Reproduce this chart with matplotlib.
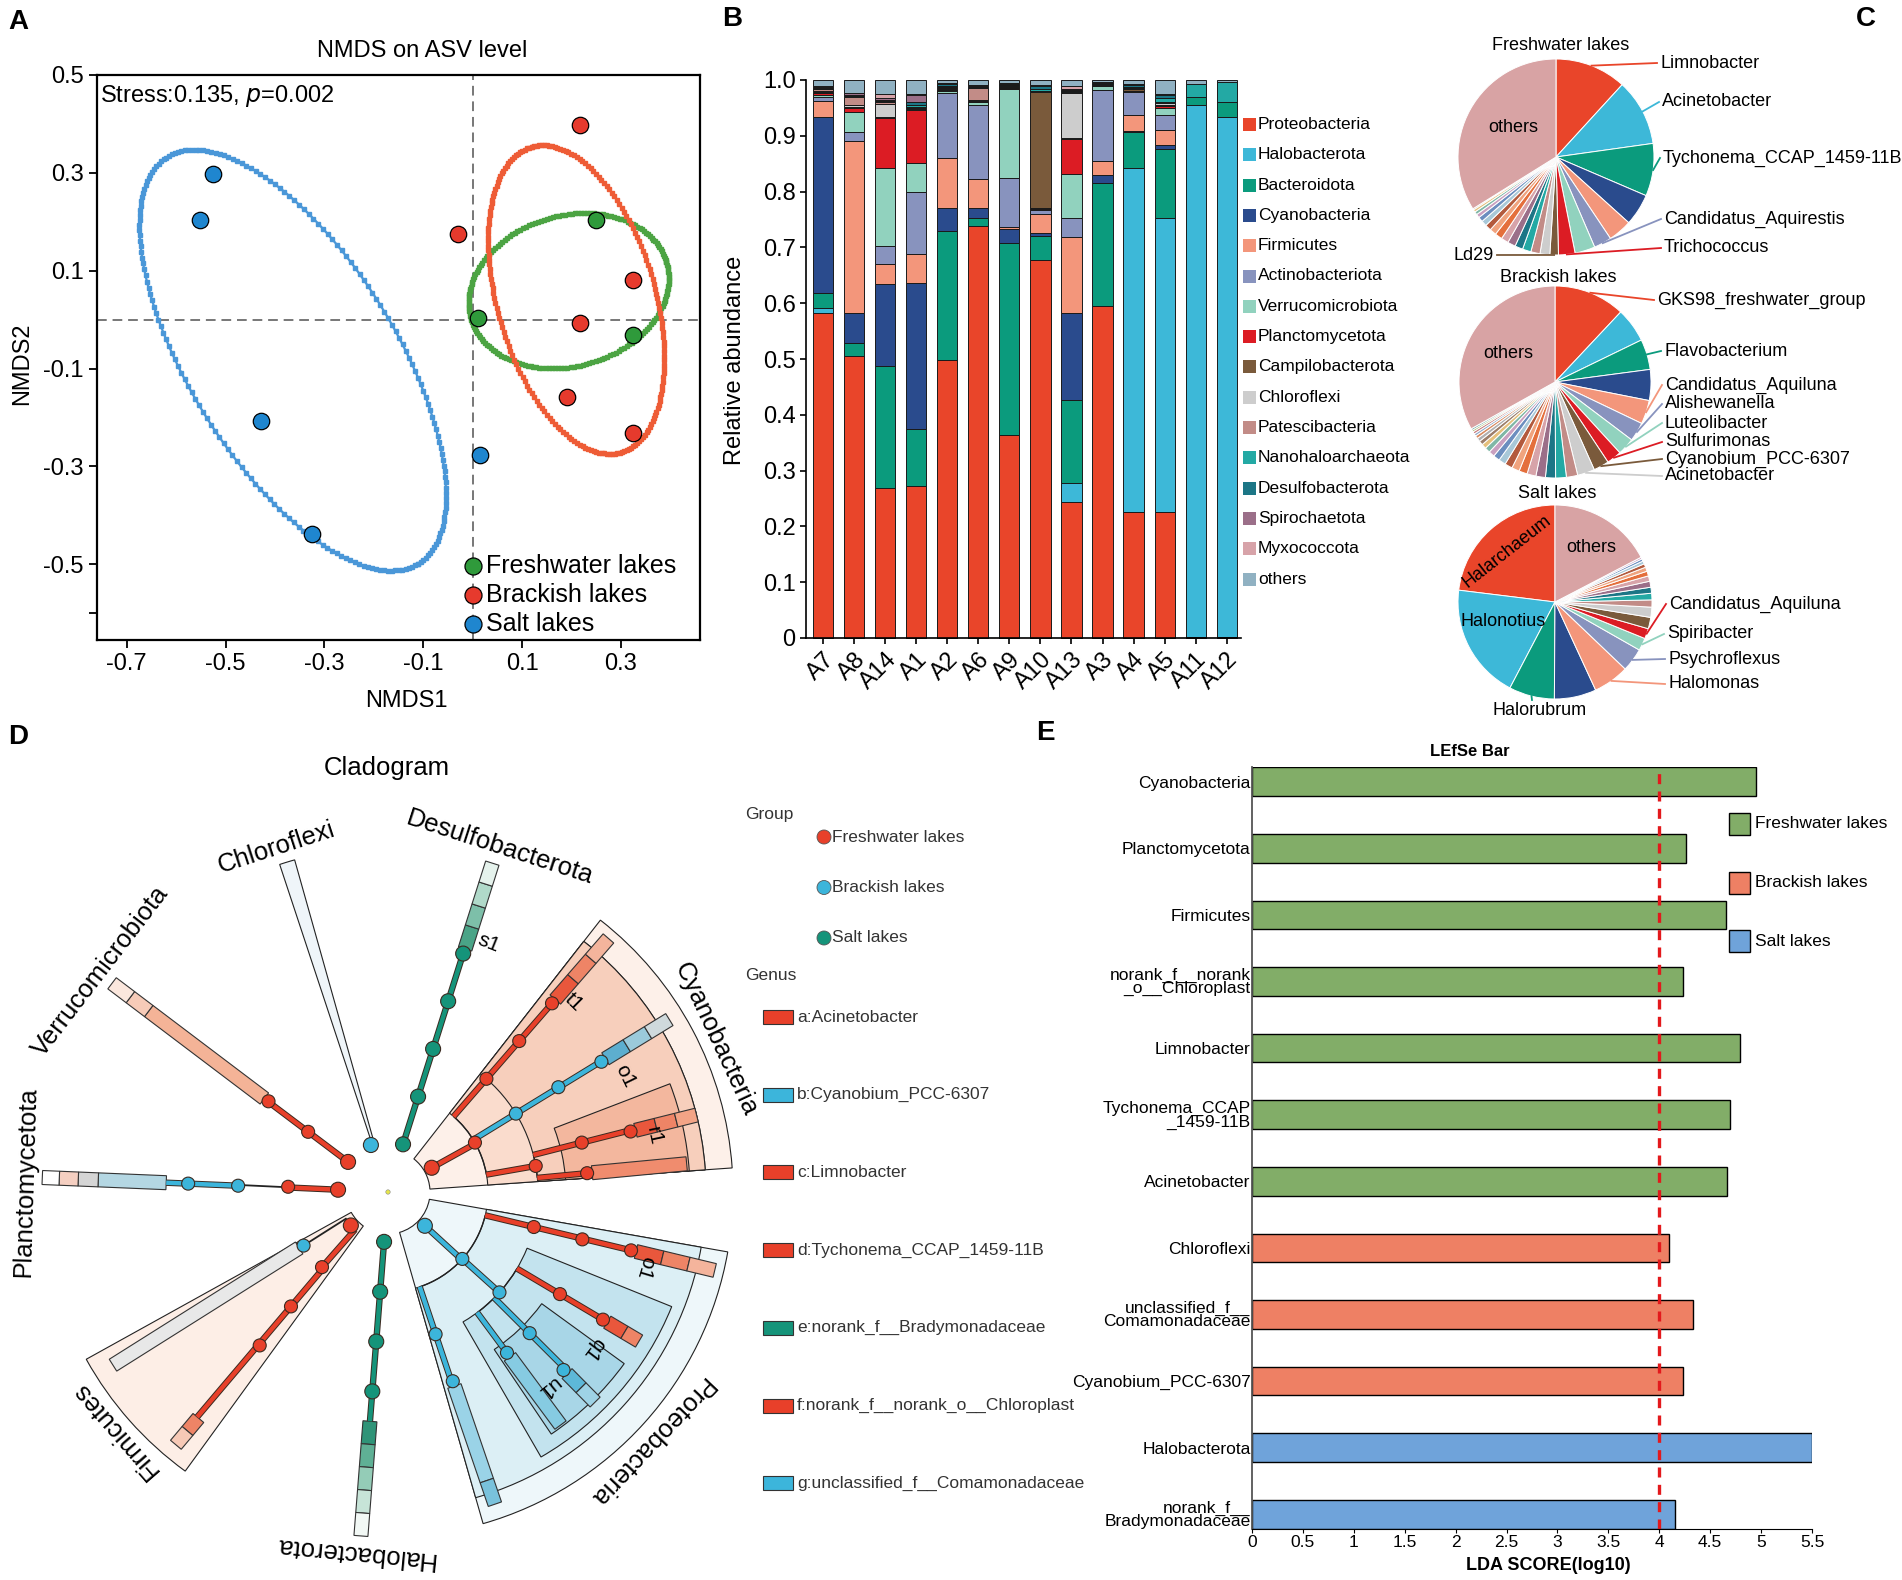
import numpy as np
import matplotlib
matplotlib.use("Agg")
import matplotlib.pyplot as plt
import matplotlib.patheffects as pe
from matplotlib.patches import Circle, Polygon, Rectangle, Wedge, Arc

plt.rcParams["font.family"] = ["Liberation Sans", "DejaVu Sans"]
plt.rcParams["axes.unicode_minus"] = False

W, H = 1902, 1580

# ---------------- A: NMDS ----------------
nmds_groups = ["Freshwater lakes", "Brackish lakes", "Salt lakes"]
fresh_x = [0.250, 0.011, 0.325]
fresh_y = [0.203, 0.003, -0.032]
brack_x = [0.217, -0.029, 0.325, 0.217, 0.191, 0.325]
brack_y = [0.397, 0.174, 0.080, -0.006, -0.159, -0.232]
salt_x = [-0.526, -0.552, -0.428, -0.325, 0.015]
salt_y = [0.297, 0.203, -0.208, -0.439, -0.277]
# ellipse: centre x, centre y, half major, half minor, angle
ell_fresh = [0.1945, 0.059, 0.206, 0.154, 16.3]
ell_brack = [0.2095, 0.041, 0.325, 0.160, 106.1]
ell_salt = [-0.364, -0.083, 0.487, 0.210, -58.7]
nmds_point_colors = ["#2F9A3B", "#E63A2D", "#1F86CF"]
nmds_line_colors = ["#4CA443", "#EE5C36", "#4A97D8"]

# ---------------- B: stacked bars ----------------
samples = ["A7", "A8", "A14", "A1", "A2", "A6", "A9", "A10", "A13", "A3", "A4", "A5", "A11", "A12"]
phyla = ["Proteobacteria", "Halobacterota", "Bacteroidota", "Cyanobacteria", "Firmicutes",
         "Actinobacteriota", "Verrucomicrobiota", "Planctomycetota", "Campilobacterota",
         "Chloroflexi", "Patescibacteria", "Nanohaloarchaeota", "Desulfobacterota",
         "Spirochaetota", "Myxococcota", "others"]
phylum_colors = ["#E9452A", "#3DB8D8", "#0B9B7D", "#2A4B8D", "#F3967B", "#8893BE", "#91D2BE",
                 "#DC1C24", "#7A5A3B", "#CDCDCD", "#C28C87", "#23A9A4", "#1C7686", "#9B6F89",
                 "#D7A3A9", "#90B1C2"]
proteobacteria = [0.583, 0.505, 0.269, 0.273, 0.499, 0.738, 0.364, 0.678, 0.243, 0.595, 0.226, 0.226, 0.002, 0.001]
halobacterota = [0.009, 0.000, 0.000, 0.000, 0.000, 0.000, 0.000, 0.000, 0.034, 0.000, 0.617, 0.526, 0.953, 0.932]
bacteroidota = [0.027, 0.024, 0.219, 0.101, 0.231, 0.014, 0.343, 0.043, 0.149, 0.221, 0.063, 0.124, 0.014, 0.027]
cyanobacteria = [0.314, 0.054, 0.147, 0.263, 0.041, 0.019, 0.026, 0.005, 0.157, 0.013, 0.002, 0.007, 0.000, 0.000]
firmicutes = [0.030, 0.308, 0.035, 0.052, 0.089, 0.052, 0.003, 0.034, 0.136, 0.025, 0.030, 0.028, 0.000, 0.000]
actinobacteriota = [0.007, 0.016, 0.032, 0.111, 0.117, 0.132, 0.089, 0.007, 0.034, 0.128, 0.040, 0.026, 0.000, 0.000]
verrucomicrobiota = [0.003, 0.035, 0.141, 0.052, 0.003, 0.005, 0.159, 0.002, 0.078, 0.007, 0.002, 0.013, 0.000, 0.000]
planctomycetota = [0.003, 0.008, 0.089, 0.095, 0.002, 0.001, 0.002, 0.001, 0.064, 0.001, 0.001, 0.003, 0.000, 0.000]
campilobacterota = [0.002, 0.002, 0.002, 0.001, 0.002, 0.001, 0.001, 0.208, 0.001, 0.001, 0.002, 0.002, 0.000, 0.000]
chloroflexi = [0.003, 0.003, 0.023, 0.002, 0.002, 0.002, 0.001, 0.002, 0.081, 0.001, 0.001, 0.003, 0.000, 0.000]
patescibacteria = [0.002, 0.015, 0.004, 0.002, 0.002, 0.022, 0.002, 0.001, 0.002, 0.001, 0.002, 0.002, 0.000, 0.000]
nanohaloarchaeota = [0.001, 0.002, 0.002, 0.003, 0.001, 0.001, 0.001, 0.002, 0.001, 0.001, 0.002, 0.008, 0.023, 0.036]
desulfobacterota = [0.002, 0.002, 0.002, 0.006, 0.003, 0.001, 0.001, 0.006, 0.002, 0.001, 0.003, 0.005, 0.000, 0.000]
spirochaetota = [0.002, 0.002, 0.002, 0.012, 0.001, 0.001, 0.001, 0.001, 0.001, 0.000, 0.001, 0.001, 0.000, 0.000]
myxococcota = [0.002, 0.000, 0.008, 0.002, 0.001, 0.002, 0.001, 0.001, 0.006, 0.001, 0.001, 0.001, 0.000, 0.000]
others = [0.010, 0.024, 0.025, 0.025, 0.006, 0.009, 0.006, 0.009, 0.011, 0.004, 0.007, 0.025, 0.008, 0.004]
abundance = [proteobacteria, halobacterota, bacteroidota, cyanobacteria, firmicutes, actinobacteriota,
             verrucomicrobiota, planctomycetota, campilobacterota, chloroflexi, patescibacteria,
             nanohaloarchaeota, desulfobacterota, spirochaetota, myxococcota, others]

# ---------------- C: pies (percent) ----------------
pie_palette = phylum_colors[:15] + ["#E46F3C", "#F0A37E", "#B35A3D", "#A8C8D8", "#6C8EBF",
                                    "#C9A0C0", "#7FB7A6", "#E5C07B", "#9C7E6A", "#B0B0B0",
                                    "#D98B5F", "#8FA9C9", "#C77B7B", "#A7B86A", "#6FA8A0"]
others_color = "#D8A3A4"
fresh_pie = [11.7, 10.9, 8.6, 5.2, 3.9, 2.9, 3.3, 2.7, 1.4, 1.6, 1.5, 1.4, 1.3, 1.3, 1.2, 1.2,
             1.1, 1.0, 0.9, 0.8, 0.6, 0.5, 0.4, 0.2, 33.6]
fresh_lab_idx = [0, 1, 2, 5, 7, 8]
fresh_lab_txt = ["Limnobacter", "Acinetobacter", "Tychonema_CCAP_1459-11B",
                 "Candidatus_Aquirestis", "Trichococcus", "Ld29"]
brack_pie = [12.0, 5.8, 5.1, 5.2, 4.0, 3.2, 2.9, 2.5, 2.6, 2.9, 1.9, 1.8, 1.7, 1.6, 1.5, 1.4,
             1.3, 1.3, 1.2, 1.1, 1.0, 0.9, 0.8, 0.7, 0.6, 0.5, 0.4, 0.4, 0.3, 0.3, 33.1]
brack_lab_idx = [0, 2, 4, 5, 6, 7, 8, 9]
brack_lab_txt = ["GKS98_freshwater_group", "Flavobacterium", "Candidatus_Aquiluna", "Alishewanella",
                 "Luteolibacter", "Sulfurimonas", "Cyanobium_PCC-6307", "Acinetobacter"]
salt_pie = [23.1, 19.3, 7.6, 7.0, 6.0, 3.9, 2.1, 1.7, 1.9, 1.7, 1.2, 1.1, 1.0, 1.0, 0.9, 0.8,
            0.7, 0.6, 0.5, 0.4, 0.3, 17.4]
salt_lab_idx = [7, 6, 5, 4, 2]
salt_lab_txt = ["Candidatus_Aquiluna", "Spiribacter", "Psychroflexus", "Halomonas", "Halorubrum"]

# ---------------- D: cladogram ----------------
group_colors = {"F": "#E8402A", "B": "#3CB5DB", "S": "#15947A", "K": "#222222"}
phylum_names = ["Chloroflexi", "Desulfobacterota", "Cyanobacteria", "Proteobacteria",
                "Halobacterota", "Firmicutes", "Planctomycetota", "Verrucomicrobiota"]
phylum_angles = [108, 72, 25, -43.5, -95.4, -139, 178.3, 142.5]
clade_wedges = [(4, 52, 42, 345, "#FDF0E9"), (4, 52, 100, 318, "#FADCCD"), (4, 52, 150, 318, "#F7CFBC"),
                (4, 21, 178, 302, "#F3B79E"),
                (-74, -10, 42, 345, "#EEF7FA"), (-74, -10, 100, 318, "#DCEFF5"),
                (-60, -22, 150, 306, "#C3E3EE"), (-56, -36, 190, 292, "#A8D6E7"),
                (-151, -126, 42, 345, "#FDEEE6"), (105.7, 108.3, 55, 345, "#EFF5F9")]
clade_branches = [(72.5, 50, 250, "S"),
                  (29.0, 50, 100, "F"), (49.0, 100, 250, "F"), (31.5, 100, 250, "B"),
                  (10.0, 100, 150, "F"), (14.3, 150, 250, "F"), (5.4, 150, 205, "F"),
                  (-42.5, 50, 100, "B"), (-13.5, 100, 250, "F"), (-42.0, 100, 150, "B"),
                  (-71.5, 100, 200, "B"), (-30.7, 150, 250, "F"), (-44.9, 150, 250, "B"),
                  (-53.5, 150, 205, "B"), (-71.1, 200, 205, "B"),
                  (-94.5, 50, 230, "S"),
                  (-147.6, 50, 100, "K"), (-131.3, 50, 100, "F"), (-130.3, 100, 295, "F"),
                  (177.4, 50, 100, "F"), (177.3, 100, 150, "K"), (177.6, 150, 222, "B"),
                  (143.0, 50, 155, "F")]
clade_arcs = [(100, 10, 49), (150, 5.4, 14.3), (100, -71.5, -13.5), (150, -53.5, -30.7), (50, -147.6, -131.3)]
clade_nodes = [(72.5, 50, "S"), (72.5, 100, "S"), (72.5, 150, "S"), (72.5, 200, "S"), (72.5, 250, "S"),
               (29, 50, "F"), (29.6, 100, "F"), (49, 150, "F"), (31.5, 150, "B"), (10, 150, "F"),
               (49, 200, "F"), (31.6, 200, "B"), (14.3, 200, "F"), (5.4, 200, "F"),
               (49, 250, "F"), (31.4, 250, "B"), (14, 250, "F"),
               (-42.5, 50, "B"), (-42, 100, "B"), (-13.5, 150, "F"), (-42, 150, "B"), (-71.5, 150, "B"),
               (-13.7, 200, "F"), (-30.7, 200, "F"), (-44.9, 200, "B"), (-53.5, 200, "B"),
               (-71.1, 200, "B"), (-13.5, 250, "F"), (-30.7, 250, "F"), (-45.4, 250, "B"),
               (-94.5, 50, "S"), (-94.5, 100, "S"), (-94.5, 150, "S"), (-94.5, 200, "S"),
               (-138, 50, "F"), (-147.6, 100, "B"), (-131.3, 100, "F"), (-130.3, 150, "F"), (-129.9, 200, "F"),
               (177.4, 50, "F"), (177, 100, "F"), (177.6, 150, "B"), (177.6, 200, "B"),
               (143, 50, "F"), (143, 100, "F"), (142.8, 150, "F"),
               (110, 50, "B")]
clade_bars = [(72.4, [255, 278, 300, 323, 345], ["#4AA487", "#7DBFA9", "#B0D9C9", "#E5F2EC"]),
              (49, [255, 282, 309, 336], ["#E9573C", "#EE8466", "#F4B49C"]),
              (31.5, [255, 280, 305, 330], ["#5DAECF", "#9BCADB", "#CFD9DC"]),
              (14, [255, 276, 297, 318], ["#E9573C", "#EE8466", "#F3A486"]),
              (5.4, [205, 300], ["#F08C6E"]),
              (-13.5, [255, 282, 309, 336], ["#E9573C", "#EE8466", "#F4B49C"]),
              (-30.7, [255, 275, 292], ["#E9573C", "#EE8466"]),
              (-45.4, [255, 275, 295], ["#5DB8D8", "#9ED3E6"]),
              (-53.5, [205, 290], ["#86CBE2"]),
              (-71.1, [205, 305, 330], ["#9AD3E7", "#79C2DC"]),
              (-94.5, [230, 253, 276, 299, 322, 345], ["#2F9478", "#5FB095", "#94CCB7", "#C7E4D8", "#F2F8F5"]),
              (-130.0, [295, 312, 330], ["#EE8466", "#F7C9B6"]),
              (-147.8, [105, 325], ["#E8E8E8"]),
              (177.6, [222, 290, 310, 329, 346], ["#B4D7E3", "#D5D5D5", "#F5CFC1", "#FFFFFF"]),
              (142.9, [155, 300, 323, 346], ["#F4B397", "#F7CBB8", "#FBE7DD"])]
clade_marks = [("s1", 68, 268), ("t1", 45.6, 266), ("o1", 26, 264), ("r1", 12, 272),
               ("o1", -16.5, 268), ("q1", -37.4, 259), ("u1", -50.7, 253)]
group_names_d = ["Freshwater lakes", "Brackish lakes", "Salt lakes"]
genus_legend = ["a:Acinetobacter", "b:Cyanobium_PCC-6307", "c:Limnobacter", "d:Tychonema_CCAP_1459-11B",
                "e:norank_f__Bradymonadaceae", "f:norank_f__norank_o__Chloroplast",
                "g:unclassified_f__Comamonadaceae"]
genus_groups = ["F", "B", "F", "F", "S", "F", "B"]

# ---------------- E: LEfSe ----------------
lefse_names = ["Cyanobacteria", "Planctomycetota", "Firmicutes", "norank_f__norank\n_o__Chloroplast",
               "Limnobacter", "Tychonema_CCAP\n_1459-11B", "Acinetobacter", "Chloroflexi",
               "unclassified_f__\nComamonadaceae", "Cyanobium_PCC-6307", "Halobacterota",
               "norank_f__\nBradymonadaceae"]
lefse_scores = [4.95, 4.26, 4.66, 4.23, 4.79, 4.69, 4.67, 4.10, 4.33, 4.23, 5.50, 4.15]
lefse_groups = ["F", "F", "F", "F", "F", "F", "F", "B", "B", "B", "S", "S"]
lefse_colors = {"F": "#82AD68", "B": "#EE8064", "S": "#6FA3DA"}
lefse_legend = ["Freshwater lakes", "Brackish lakes", "Salt lakes"]

fig = plt.figure(figsize=(W / 100, H / 100), dpi=100)


def box(l, t, w, h):
    return [l / W, 1 - (t + h) / H, w / W, h / H]


def Y(t):
    return H - t


# ---- A ----
axA = fig.add_axes(box(97, 75, 603, 565))
axA.axhline(0, color="#777777", ls=(0, (5, 3)), lw=1.4, zorder=1)
axA.axvline(0, color="#777777", ls=(0, (5, 3)), lw=1.4, zorder=1)
tt = np.linspace(0, 2 * np.pi, 200)
for (ecx, ecy, ea, eb, eang), col in zip([ell_fresh, ell_brack, ell_salt], nmds_line_colors):
    th = np.deg2rad(eang)
    ex = ecx + ea * np.cos(tt) * np.cos(th) - eb * np.sin(tt) * np.sin(th)
    ey = ecy + ea * np.cos(tt) * np.sin(th) + eb * np.sin(tt) * np.cos(th)
    axA.plot(ex, ey, color=col, lw=1.6, marker="s", ms=2.4, zorder=2)
for xs, ys, col in zip([fresh_x, brack_x, salt_x], [fresh_y, brack_y, salt_y], nmds_point_colors):
    axA.scatter(xs, ys, s=140, color=col, edgecolor="black", linewidth=0.9, zorder=3)
axA.set_xlim(-0.76, 0.46)
axA.set_ylim(-0.655, 0.5)
axA.set_xticks([-0.7, -0.5, -0.3, -0.1, 0.1, 0.3])
axA.set_xticklabels(["-0.7", "-0.5", "-0.3", "-0.1", "0.1", "0.3"])
axA.set_yticks([0.5, 0.3, 0.1, -0.1, -0.3, -0.5, -0.6])
axA.set_yticklabels(["0.5", "0.3", "0.1", "-0.1", "-0.3", "-0.5", ""])
axA.tick_params(labelsize=17, width=1.3, length=6)
for s in axA.spines.values():
    s.set_linewidth(1.6)

# ---- B ----
axB = fig.add_axes(box(806, 80, 435, 558))
xb = np.arange(len(samples))
bottom = np.zeros(len(samples))
for vals, col in zip(abundance, phylum_colors):
    axB.bar(xb, vals, 0.65, bottom=bottom, color=col, edgecolor="#1a1a1a", linewidth=0.7, clip_on=False)
    bottom += np.array(vals)
axB.set_xlim(-0.55, 13.46)
axB.set_ylim(0, 1.0)
axB.set_yticks(np.arange(0, 1.01, 0.1))
axB.set_yticklabels(["0"] + ["%.1f" % v for v in np.arange(0.1, 1.01, 0.1)])
axB.set_xticks(xb)
axB.set_xticklabels(samples, rotation=45, ha="right", rotation_mode="anchor")
axB.tick_params(labelsize=17, width=1.2, length=4)
axB.spines["top"].set_visible(False)
axB.spines["right"].set_visible(False)
axB.spines["left"].set_linewidth(1.2)
axB.spines["bottom"].set_linewidth(1.2)

# ---- E ----
axE = fig.add_axes(box(1252, 767, 560, 762))
ye = np.arange(len(lefse_names))
axE.barh(ye, lefse_scores, height=0.43, color=[lefse_colors[g] for g in lefse_groups],
         edgecolor="black", linewidth=1.0)
axE.axvline(4.0, color="#E3191C", ls=(0, (3, 2.2)), lw=2.4)
axE.set_xlim(0, 5.5)
axE.set_ylim(len(lefse_names) - 1 + 0.22, -0.22)
axE.set_xticks(np.arange(0, 5.51, 0.5))
axE.set_xticklabels(["%g" % v for v in np.arange(0, 5.51, 0.5)])
axE.set_yticks(ye)
axE.set_yticklabels(lefse_names, linespacing=0.85)
axE.tick_params(axis="y", length=0, pad=1, labelsize=12.5)
axE.tick_params(axis="x", length=3, pad=1, labelsize=12.5)
axE.spines["top"].set_visible(False)
axE.spines["right"].set_visible(False)
axE.spines["left"].set_color("#555555")
axE.spines["left"].set_linewidth(1.3)

# ---- overlay in pixel units ----
ov = fig.add_axes([0, 0, 1, 1])
ov.patch.set_visible(False)

# panel letters and titles
for letter, (lx, ly) in zip("ABCDE", [(8, 22), (722, 19), (1856, 19), (8, 737), (1036, 733)]):
    ov.text(lx, Y(ly), letter, fontsize=20, fontweight="bold", ha="left", va="center")
ov.text(422, Y(51), "NMDS on ASV level", fontsize=17, ha="center", va="center")
ov.text(100, Y(96), "Stress:0.135, $\\it{p}$=0.002", fontsize=17, ha="left", va="center")
ov.text(406, Y(701), "NMDS1", fontsize=17, ha="center", va="center")
ov.text(22, Y(364), "NMDS2", fontsize=17, ha="center", va="center", rotation=90)
for i, name in enumerate(nmds_groups):
    yy = Y(566 + 29 * i)
    ov.scatter([473], [yy], s=150, color=nmds_point_colors[i], edgecolor="black", linewidth=0.9)
    ov.text(486, yy, name, fontsize=18, ha="left", va="center")

ov.text(735, Y(360), "Relative abundance", fontsize=17, ha="center", va="center", rotation=90)
for i, (name, col) in enumerate(zip(phyla, phylum_colors)):
    yy = Y(124.5 + 30.3 * i)
    ov.add_patch(Rectangle((1243, yy - 6.5), 13, 13, fc=col, ec="none"))
    ov.text(1258, yy, name, fontsize=12.5, ha="left", va="center")


# ---- C: pies ----
def draw_pie(vals, centre, radius, counterclock, lab_idx, lab_txt, lab_xy, lab_ha):
    cols = [pie_palette[i % len(pie_palette)] for i in range(len(vals) - 1)] + [others_color]
    wedges, _ = ov.pie(vals, colors=cols, startangle=90, counterclock=counterclock,
                       center=(centre[0], Y(centre[1])), radius=radius,
                       wedgeprops=dict(edgecolor="white", linewidth=0.7))
    for idx, txt, (lx, ly), ha in zip(lab_idx, lab_txt, lab_xy, lab_ha):
        w = wedges[idx]
        mid = np.deg2rad((w.theta1 + w.theta2) / 2)
        px = centre[0] + radius * np.cos(mid)
        py = Y(centre[1]) + radius * np.sin(mid)
        ex = lx - 3 if ha == "left" else lx + 3
        if ha == "center":
            ex = lx - 8
        ov.plot([px, ex], [py, Y(ly)], color=w.get_facecolor(), lw=1.3)
        ov.text(lx, Y(ly) if ha != "center" else Y(ly) - 2, txt, fontsize=13,
                ha=ha, va="center" if ha != "center" else "top")
    return wedges


draw_pie(fresh_pie, (1556, 157), 98, False, fresh_lab_idx, fresh_lab_txt,
         [(1660, 63), (1662, 102), (1663, 158), (1664, 219), (1664, 248), (1494, 255)],
         ["left"] * 5 + ["right"])
draw_pie(brack_pie, (1555, 382), 96, False, brack_lab_idx, brack_lab_txt,
         [(1657, 300), (1664, 351), (1665, 385), (1665, 404), (1665, 423), (1665, 442),
          (1665, 459), (1665, 476)], ["left"] * 8)
draw_pie(salt_pie, (1555, 602), 97, True, salt_lab_idx, salt_lab_txt,
         [(1669, 604), (1667, 634), (1668, 659), (1668, 684), (1540, 700)],
         ["left"] * 4 + ["center"])
ov.text(1561, Y(45), "Freshwater lakes", fontsize=13, ha="center", va="center")
ov.text(1558, Y(277), "Brackish lakes", fontsize=13, ha="center", va="center")
ov.text(1557, Y(494), "Salt lakes", fontsize=13, ha="center", va="center")
ov.text(1513, Y(128), "others", fontsize=13, ha="center", va="center")
ov.text(1508, Y(354), "others", fontsize=13, ha="center", va="center")
ov.text(1591, Y(547), "others", fontsize=13, ha="center", va="center")
ov.text(1507, Y(551), "Halarchaeum", fontsize=13, ha="center", va="center", rotation=38)
ov.text(1503, Y(622), "Halonotius", fontsize=13, ha="center", va="center")

# ---- D: cladogram ----
ccx, ccy = 388, Y(1192)


def pol(ang, r):
    a = np.deg2rad(ang)
    return ccx + r * np.cos(a), ccy + r * np.sin(a)


for a1, a2, r1, r2, col in clade_wedges:
    ov.add_patch(Wedge((ccx, ccy), r2, a1, a2, width=r2 - r1, fc=col, ec="#222222", lw=0.8))
for ang, edges, cols in clade_bars:
    a = np.deg2rad(ang)
    u = np.array([np.cos(a), np.sin(a)])
    n = np.array([-np.sin(a), np.cos(a)])
    c0 = np.array([ccx, ccy])
    for r1, r2, col in zip(edges[:-1], edges[1:], cols):
        pts = [c0 + r1 * u - 7 * n, c0 + r2 * u - 7 * n, c0 + r2 * u + 7 * n, c0 + r1 * u + 7 * n]
        ov.add_patch(Polygon(pts, closed=True, fc=col, ec="#333333", lw=0.8))
for r, a1, a2 in clade_arcs:
    ov.add_patch(Arc((ccx, ccy), 2 * r, 2 * r, theta1=a1, theta2=a2, color="#222222", lw=1.0))
for ang, r1, r2, g in clade_branches:
    x1, y1 = pol(ang, r1)
    x2, y2 = pol(ang, r2)
    if g == "K":
        ov.plot([x1, x2], [y1, y2], color="#222222", lw=1.3)
    else:
        ov.plot([x1, x2], [y1, y2], color=group_colors[g], lw=3.2, solid_capstyle="butt",
                path_effects=[pe.Stroke(linewidth=4.6, foreground="#3a2a20"), pe.Normal()])
for ang, r, g in clade_nodes:
    x1, y1 = pol(ang, r)
    rad = 7.5 if (r == 50 or g == "S") else 6.5
    ov.add_patch(Circle((x1, y1), rad, fc=group_colors[g], ec="#3a2a20", lw=0.8, zorder=4))
ov.add_patch(Circle((ccx, ccy), 2.2, fc="#E6E64A", ec="#888888", lw=0.4))
for name, ang in zip(phylum_names, phylum_angles):
    x1, y1 = pol(ang, 362)
    ov.text(x1, y1, name, fontsize=18.5, ha="center", va="center", rotation=ang - 90,
            rotation_mode="anchor")
for txt, ang, r in clade_marks:
    x1, y1 = pol(ang, r)
    ov.text(x1, y1, txt, fontsize=15, ha="center", va="center", rotation=ang - 90,
            rotation_mode="anchor")
ov.text(387, Y(768), "Cladogram", fontsize=18.5, ha="center", va="center")

ov.text(745, Y(814), "Group", fontsize=12.5, ha="left", va="center", color="#333333")
for i, (name, g) in enumerate(zip(group_names_d, ["F", "B", "S"])):
    yy = Y(837 + 50.5 * i)
    ov.add_patch(Circle((824, yy), 7, fc=group_colors[g], ec="#555555", lw=0.6))
    ov.text(832, yy, name, fontsize=12.5, ha="left", va="center", color="#333333")
ov.text(745, Y(976), "Genus", fontsize=12.5, ha="left", va="center", color="#333333")
for i, (name, g) in enumerate(zip(genus_legend, genus_groups)):
    yy = Y(1017 + 77.7 * i)
    ov.add_patch(Rectangle((763, yy - 7), 30, 14, fc=group_colors[g], ec="#333333", lw=0.8))
    ov.text(797, yy, name, fontsize=12.5, ha="left", va="center", color="#333333")

# ---- E extras ----
ov.text(1470, Y(752), "LEfSe Bar", fontsize=12, fontweight="bold", ha="center", va="center")
ov.text(1548, Y(1565), "LDA SCORE(log10)", fontsize=13, fontweight="bold", ha="center", va="center")
for i, (name, g) in enumerate(zip(lefse_legend, ["F", "B", "S"])):
    yy = Y(824 + 58.5 * i)
    ov.add_patch(Rectangle((1729, yy - 11), 21, 22, fc=lefse_colors[g], ec="black", lw=1.0))
    ov.text(1755, yy, name, fontsize=12.5, ha="left", va="center")

ov.set_xlim(0, W)
ov.set_ylim(0, H)
ov.set_aspect("auto")
ov.axis("off")

fig.savefig("out.png", dpi=100)
